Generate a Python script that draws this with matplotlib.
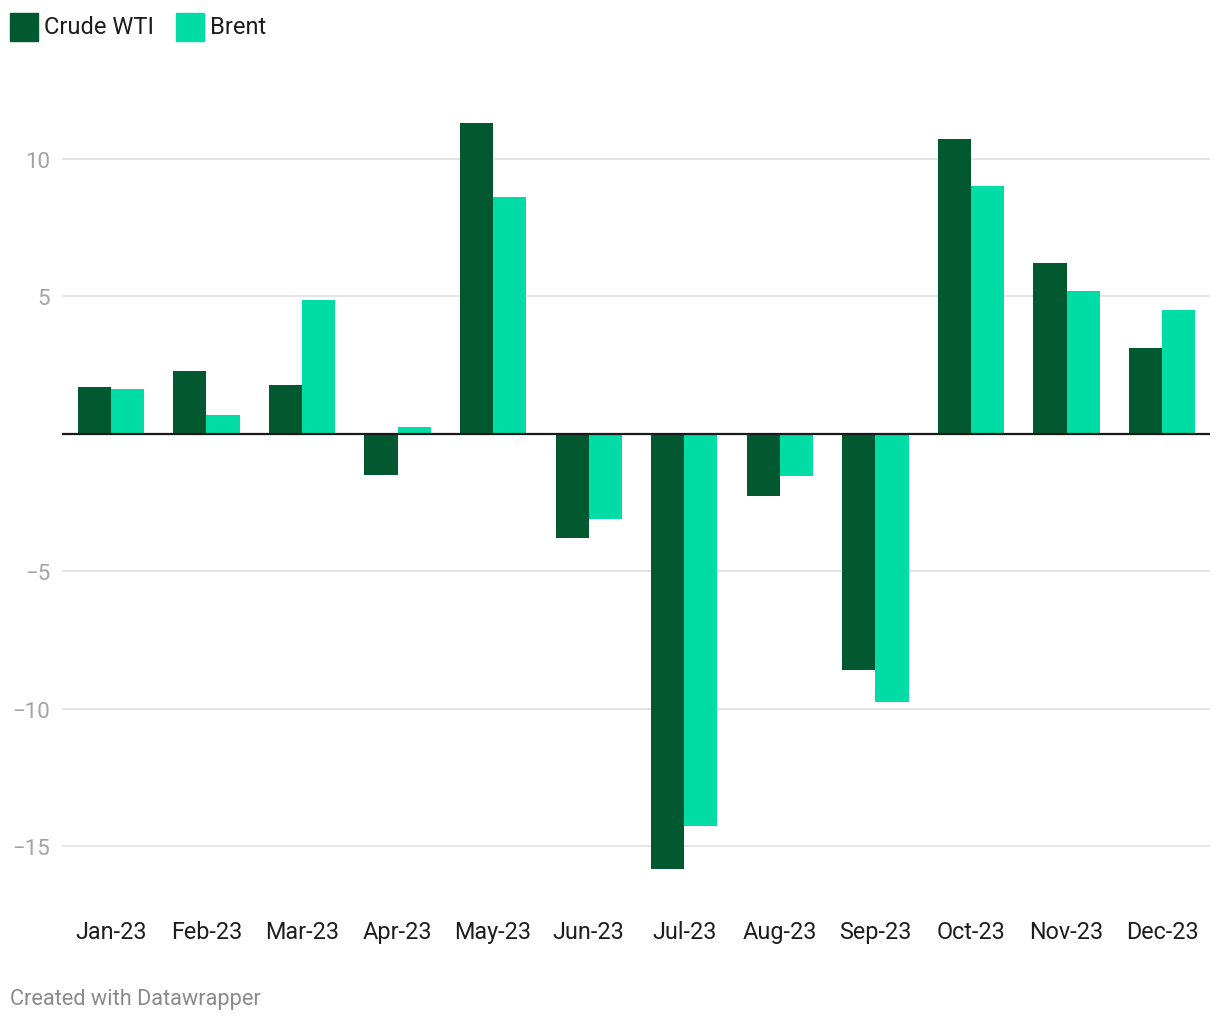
import matplotlib
matplotlib.use("Agg")
import matplotlib.pyplot as plt
import numpy as np
from matplotlib.patches import Rectangle

plt.rcParams['font.family'] = ['Roboto', 'DejaVu Sans']

months = ["Jan-23", "Feb-23", "Mar-23", "Apr-23", "May-23", "Jun-23",
          "Jul-23", "Aug-23", "Sep-23", "Oct-23", "Nov-23", "Dec-23"]
wti = [1.71, 2.29, 1.78, -1.49, 11.31, -3.78, -15.82, -2.25, -8.58, 10.73, 6.22, 3.13]
brent = [1.64, 0.69, 4.87, 0.25, 8.62, -3.09, -14.25, -1.53, -9.75, 9.02, 5.20, 4.51]
series_names = ["Crude WTI", "Brent"]
yticks = [-15, -10, -5, 5, 10]
ytick_labels = ["\u221215", "\u221210", "\u22125", "5", "10"]

c_wti = "#03592f"
c_brent = "#00dca6"

W, H = 1220, 1020
fig = plt.figure(figsize=(W / 100, H / 100), dpi=100)

ymin, ymax = -16.3, 12.2
px_per = 27.5
zero_px = 434.8
top_px = zero_px - ymax * px_per
bot_px = zero_px - ymin * px_per
left_px, right_px = 62, 1210
ax = fig.add_axes([left_px / W, 1 - bot_px / H, (right_px - left_px) / W, (bot_px - top_px) / H])

x = np.arange(len(months))
bw = 0.347
ax.bar(x - bw / 2, wti, width=bw, color=c_wti, zorder=2, linewidth=0)
ax.bar(x + bw / 2, brent, width=bw, color=c_brent, zorder=2, linewidth=0)

ax.set_xlim(-0.51, 11.5)
ax.set_ylim(ymin, ymax)

for t in yticks:
    ax.axhline(t, color="#e3e3e3", lw=1.3, zorder=1)
ax.axhline(0, color="#1a1a1a", lw=1.6, zorder=3)

for s in ax.spines.values():
    s.set_visible(False)

ax.set_yticks(yticks)
ax.set_yticklabels(ytick_labels, fontsize=16, color="#a3a3a3")
ax.tick_params(axis='y', length=0, pad=8.5)
ax.set_xticks(x)
ax.set_xticklabels(months, fontsize=16.8, color="#1d1d1d")
ax.tick_params(axis='x', length=0, pad=27)

# legend
for i, (name, col, xs, xt) in enumerate(zip(series_names, [c_wti, c_brent], [10, 176], [44, 210])):
    fig.patches.append(Rectangle((xs / W, 1 - 42 / H), 28 / W, 28 / H, transform=fig.transFigure,
                                 color=col, figure=fig))
    fig.text(xt / W, 1 - 27 / H, name, fontsize=17, color="#1d1d1d", va="center", ha="left")

fig.text(10 / W, 1 - 999.5 / H, "Created with Datawrapper", fontsize=15.7, color="#8a8a8a",
         va="center", ha="left")

fig.savefig("out.png", dpi=100, facecolor="white")
